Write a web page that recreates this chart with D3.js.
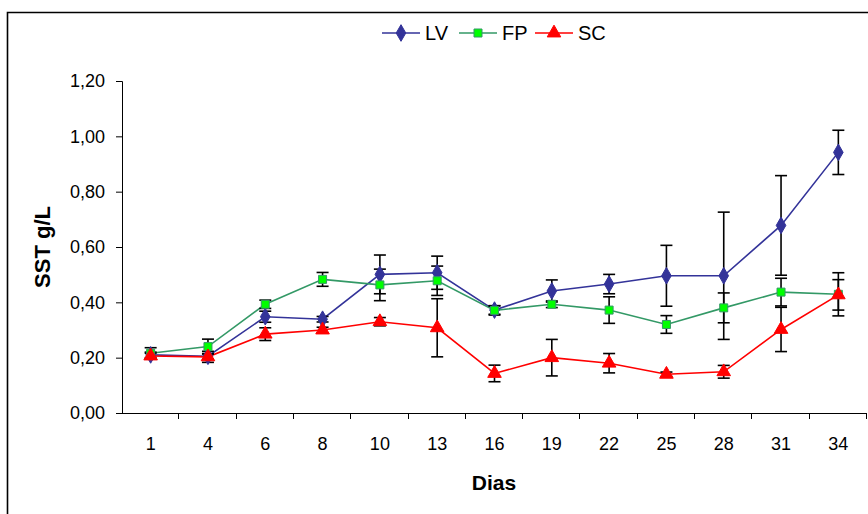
<!DOCTYPE html>
<html>
<head>
<meta charset="utf-8">
<script src="https://cdn.jsdelivr.net/npm/d3@7"></script>
<style>
  body { margin: 0; background: #fff; }
  svg { display: block; font-family: "Liberation Sans", Arial, sans-serif; }
</style>
</head>
<body>
<svg></svg>
<script>
var width = 868,
    height = 514;

// data
var days = ["1", "4", "6", "8", "10", "13", "16", "19", "22", "25", "28", "31", "34"];
var lvValues = [0.21, 0.205, 0.348, 0.339, 0.501, 0.507, 0.372, 0.441, 0.466, 0.496, 0.496, 0.678, 0.942];
var lvErrors = [0.01, 0.01, 0.02, 0.01, 0.07, 0.06, 0.015, 0.04, 0.035, 0.11, 0.23, 0.18, 0.08];
var fpValues = [0.216, 0.24, 0.393, 0.483, 0.463, 0.478, 0.371, 0.393, 0.372, 0.32, 0.38, 0.437, 0.429];
var fpErrors = [0.02, 0.027, 0.015, 0.025, 0.057, 0.053, 0.017, 0.012, 0.048, 0.032, 0.054, 0.05, 0.078];
var scValues = [0.206, 0.203, 0.285, 0.30, 0.33, 0.308, 0.143, 0.20, 0.18, 0.14, 0.149, 0.302, 0.427];
var scErrors = [0.01, 0.02, 0.023, 0.01, 0.015, 0.105, 0.03, 0.066, 0.035, 0.008, 0.023, 0.08, 0.055];
var yTicks = [0, 0.2, 0.4, 0.6, 0.8, 1.0, 1.2];

var series = [
  {name: "LV", values: lvValues, errors: lvErrors, line: "#333399", fill: "#333399", stroke: "#333399", shape: d3.symbolDiamond, size: 80},
  {name: "FP", values: fpValues, errors: fpErrors, line: "#339966", fill: "#00ff00", stroke: "#339966", shape: d3.symbolSquare, size: 64},
  {name: "SC", values: scValues, errors: scErrors, line: "#ff0000", fill: "#ff0000", stroke: "#ff0000", shape: d3.symbolTriangle, size: 80}
];

var svg = d3.select("svg")
    .attr("width", width)
    .attr("height", height);

// outer frame (cut by the right and bottom edge)
svg.append("path")
    .attr("d", "M7.5," + height + "V12.5H" + width)
    .attr("fill", "none")
    .attr("stroke", "#000")
    .attr("stroke-width", 1.6);

var x = d3.scaleBand()
    .domain(days)
    .range([122, 867]);

var y = d3.scaleLinear()
    .domain([0, 1.2])
    .range([413, 81]);

var fmt = function(v) { return d3.format(".2f")(v).replace(".", ","); };

// y axis
var yAxis = svg.append("g")
    .attr("transform", "translate(122,0)")
    .call(d3.axisLeft(y).tickValues(yTicks).tickFormat(fmt).tickSize(6).tickPadding(11));
yAxis.selectAll("text").style("font-size", "18px").attr("fill", "#000");
yAxis.selectAll("line, path").attr("stroke", "#000");
yAxis.select(".domain").attr("d", "M-6,81.5H0.5V413.5H-6");

// x axis with ticks between categories
var xAxis = svg.append("g")
    .attr("transform", "translate(0,413)")
    .call(d3.axisBottom(x).tickSize(0).tickPadding(24));
xAxis.selectAll("text").style("font-size", "18px").attr("fill", "#000");
xAxis.select(".domain").attr("d", "M122,0.5H867").attr("stroke", "#000");
xAxis.selectAll(".sep")
    .data(days.slice(1).concat(["end"]))
    .enter().append("line")
    .attr("class", "sep")
    .attr("x1", function(d, i) { return Math.round(x(days[0]) + (i + 1) * x.step()) - 0.5; })
    .attr("x2", function(d, i) { return Math.round(x(days[0]) + (i + 1) * x.step()) - 0.5; })
    .attr("y1", 0)
    .attr("y2", 6)
    .attr("stroke", "#000");

// axis titles
svg.append("text")
    .attr("x", 494)
    .attr("y", 490)
    .attr("text-anchor", "middle")
    .style("font-size", "21px")
    .style("font-weight", "bold")
    .text("Dias");

svg.append("text")
    .attr("transform", "translate(50,247) rotate(-90)")
    .attr("text-anchor", "middle")
    .style("font-size", "22px")
    .style("font-weight", "bold")
    .text("SST g/L");

var cx = function(i) { return x(days[i]) + x.bandwidth() / 2; };

// lines
var line = d3.line()
    .x(function(d, i) { return cx(i); })
    .y(function(d) { return y(d); });

series.forEach(function(s) {
  svg.append("path")
      .datum(s.values)
      .attr("d", line)
      .attr("fill", "none")
      .attr("stroke", s.line)
      .attr("stroke-width", 1.6);
});

// error bars
series.forEach(function(s) {
  var g = svg.append("g").attr("class", "err");
  s.values.forEach(function(v, i) {
    var px = cx(i), top = y(v + s.errors[i]), bot = y(v - s.errors[i]);
    g.append("line").attr("x1", px).attr("x2", px).attr("y1", top).attr("y2", bot)
        .attr("stroke", "#000").attr("stroke-width", 1.6);
    [top, bot].forEach(function(yy) {
      g.append("line").attr("x1", px - 6).attr("x2", px + 6).attr("y1", yy).attr("y2", yy)
          .attr("stroke", "#000").attr("stroke-width", 1.6);
    });
  });
});

// markers
series.forEach(function(s) {
  svg.append("g")
    .selectAll("path")
    .data(s.values)
    .enter().append("path")
      .attr("transform", function(d, i) { return "translate(" + cx(i) + "," + y(d) + ")"; })
      .attr("d", d3.symbol().type(s.shape).size(s.size))
      .attr("fill", s.fill)
      .attr("stroke", s.stroke)
      .attr("stroke-width", 1);
});

// legend
var legendX = [382, 459, 535];
var legend = svg.append("g");
series.forEach(function(s, i) {
  var lg = legend.append("g").attr("transform", "translate(" + legendX[i] + ",33)");
  lg.append("line").attr("x1", 0).attr("x2", 38).attr("y1", 0).attr("y2", 0)
      .attr("stroke", s.line).attr("stroke-width", 1.6);
  lg.append("path").attr("transform", "translate(19,0)")
      .attr("d", d3.symbol().type(s.shape).size(s.size))
      .attr("fill", s.fill).attr("stroke", s.stroke).attr("stroke-width", 1);
  lg.append("text").attr("x", 43).attr("y", 7)
      .style("font-size", "20px")
      .text(s.name);
});
</script>
</body>
</html>
